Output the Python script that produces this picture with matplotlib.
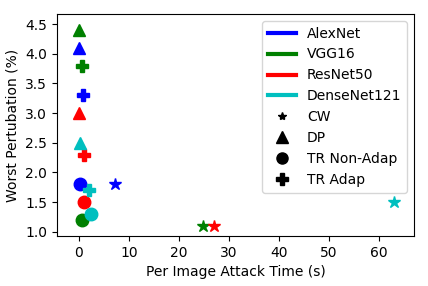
import matplotlib
matplotlib.use('Agg')
import matplotlib.pyplot as plt
from matplotlib.lines import Line2D

nets = ['AlexNet', 'VGG16', 'ResNet50', 'DenseNet121']
colors = ['b', 'g', 'r', 'c']
methods = ['CW', 'DP', 'TR Non-Adap', 'TR Adap']
markers = ['*', '^', 'o', 'P']

# attack time (s) per method, one list per network
times = {
	'AlexNet': [7.2, 0.0, 0.3, 0.9],
	'VGG16': [24.9, 0.1, 0.6, 0.7],
	'ResNet50': [27.0, 0.1, 1.1, 1.1],
	'DenseNet121': [63.0, 0.2, 2.4, 2.0],
}
# worst perturbation (%)
perts = {
	'AlexNet': [1.8, 4.1, 1.8, 3.3],
	'VGG16': [1.1, 4.4, 1.2, 3.8],
	'ResNet50': [1.1, 3.0, 1.5, 2.3],
	'DenseNet121': [1.5, 2.5, 1.3, 1.7],
}

fig, ax = plt.subplots(figsize=(4.28, 2.86), dpi=100)
for net, c in zip(nets, colors):
	for i, m in enumerate(markers):
		ax.plot(times[net][i], perts[net][i], marker=m, color=c, markersize=9, linestyle='none')

handles = [Line2D([0], [0], color=c, lw=3) for c in colors]
handles += [Line2D([0], [0], color='k', marker=m, linestyle='none', markersize=s)
			for m, s in zip(markers, [6, 8, 8, 8])]
ax.legend(handles, nets + methods, loc='upper right', fontsize=10, handlelength=2)

ax.set_xlim(-4.4, 67)
ax.set_ylim(0.93, 4.67)
ax.set_xticks([0, 10, 20, 30, 40, 50, 60])
ax.set_yticks([1.0, 1.5, 2.0, 2.5, 3.0, 3.5, 4.0, 4.5])
ax.tick_params(labelsize=10)
ax.set_xlabel('Per Image Attack Time (s)', fontsize=10)
ax.set_ylabel('Worst Pertubation (%)', fontsize=10)
fig.subplots_adjust(left=0.133, right=0.967, top=0.951, bottom=0.175)
fig.savefig('out.png')
